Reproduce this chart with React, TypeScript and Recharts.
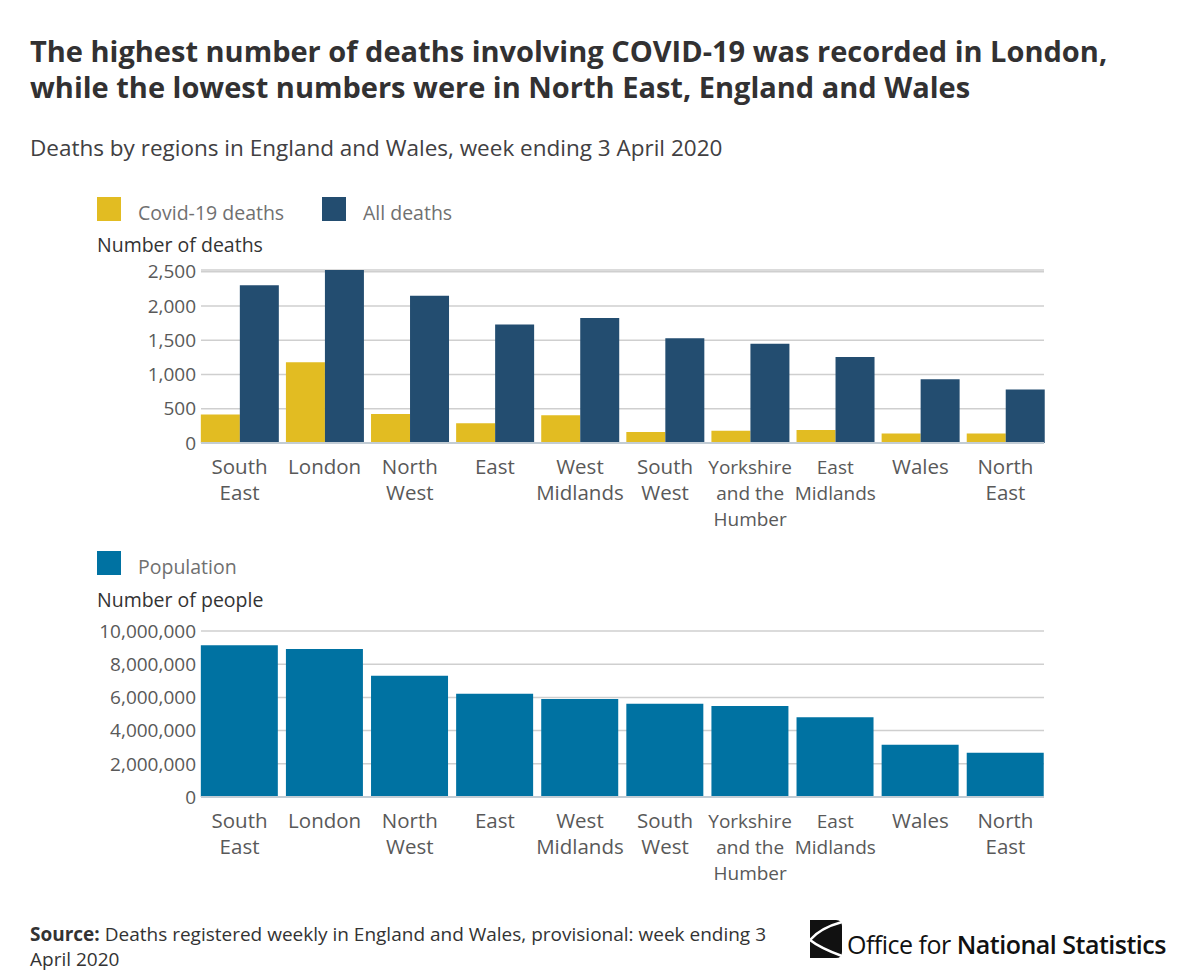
import React from 'react';
import { BarChart, Bar, XAxis, YAxis, CartesianGrid } from 'recharts';

const regions = ['South East', 'London', 'North West', 'East', 'West Midlands', 'South West', 'Yorkshire and the Humber', 'East Midlands', 'Wales', 'North East'];
const regionLines = [['South', 'East'], ['London'], ['North', 'West'], ['East'], ['West', 'Midlands'], ['South', 'West'], ['Yorkshire', 'and the', 'Humber'], ['East', 'Midlands'], ['Wales'], ['North', 'East']];
const covidDeaths = [415, 1178, 425, 290, 405, 159, 180, 188, 140, 140];
const allDeaths = [2302, 2525, 2148, 1728, 1824, 1530, 1448, 1255, 932, 782];
const population = [9140000, 8910000, 7300000, 6220000, 5900000, 5620000, 5480000, 4800000, 3150000, 2670000];
const deathTicks = [0, 500, 1000, 1500, 2000, 2500];
const popTicks = [0, 2000000, 4000000, 6000000, 8000000, 10000000];

const YELLOW = '#e2bc22';
const NAVY = '#234d70';
const TEAL = '#0072a2';
const FONT = '"Open Sans", "Noto Sans", sans-serif';

const deathsData = regions.map((r, i) => ({ name: r, covid: covidDeaths[i], all: allDeaths[i] }));
const popData = regions.map((r, i) => ({ name: r, population: population[i] }));

const fmt = (v: number) => v.toLocaleString('en-GB');

// multi-line category labels; the long ones are set a touch smaller
const RegionTick = ({ x, y, index }: any) => {
  const lines = regionLines[index] || [];
  const size = index === 6 || index === 7 ? 19 : 20.5;
  return (
    <text x={x} y={y} textAnchor="middle" fill="#595959" fontSize={size} fontFamily={FONT}>
      {lines.map((l, i) => (
        <tspan key={i} x={x} y={y + 23 + i * 26}>{l}</tspan>
      ))}
    </text>
  );
};

const Swatch = ({ color, label, left, top }: { color: string; label: string; left: number; top: number }) => (
  <>
    <div style={{ position: 'absolute', left, top, width: 24, height: 24, background: color }} />
    <div style={{ position: 'absolute', left: left + 41, top: top + 3, fontSize: 19.5, lineHeight: '26px', color: '#707070', whiteSpace: 'nowrap' }}>{label}</div>
  </>
);

const App: React.FC = () => {
  const axisTick = { fontSize: 19, fill: '#595959', fontFamily: FONT };
  return (
    <div style={{ position: 'absolute', left: 0, top: 0, width: 1200, height: 979, background: '#fff', fontFamily: FONT, overflow: 'hidden' }}>
      <div style={{ position: 'absolute', left: 30, top: 33, fontSize: 29, fontWeight: 700, lineHeight: '36px', color: '#323132', whiteSpace: 'nowrap' }}>
        The highest number of deaths involving COVID-19 was recorded in London,<br />
        while the lowest numbers were in North East, England and Wales
      </div>
      <div style={{ position: 'absolute', left: 30, top: 133, fontSize: 22.5, lineHeight: '30px', color: '#414042', whiteSpace: 'nowrap' }}>
        Deaths by regions in England and Wales, week ending 3 April 2020
      </div>

      {/* Deaths chart */}
      <Swatch color={YELLOW} label="Covid-19 deaths" left={97} top={197} />
      <Swatch color={NAVY} label="All deaths" left={322} top={197} />
      <div style={{ position: 'absolute', left: 97, top: 232, fontSize: 19.5, lineHeight: '26px', color: '#333' }}>Number of deaths</div>
      <div style={{ position: 'absolute', left: 0, top: 240 }}>
        <BarChart width={1200} height={303} data={deathsData} margin={{ top: 30, right: 156, bottom: 0, left: 0 }} barCategoryGap="4.5%" barGap={0}>
          <CartesianGrid vertical={false} stroke="#cfcfcf" strokeWidth={1.5} />
          <XAxis dataKey="name" height={100} interval={0} padding={{ left: -4, right: -4 }} tick={<RegionTick />} tickLine={false} axisLine={{ stroke: '#c2ccd4', strokeWidth: 2 }} />
          <YAxis width={201} domain={[0, 2500]} ticks={deathTicks} tickFormatter={fmt} tick={axisTick} axisLine={false} tickLine={false} tickSize={3} tickMargin={2} />
          <Bar dataKey="covid" fill={YELLOW} isAnimationActive={false} />
          <Bar dataKey="all" fill={NAVY} isAnimationActive={false} />
        </BarChart>
      </div>

      {/* Population chart */}
      <Swatch color={TEAL} label="Population" left={97} top={551} />
      <div style={{ position: 'absolute', left: 97, top: 587, fontSize: 19.5, lineHeight: '26px', color: '#333' }}>Number of people</div>
      <div style={{ position: 'absolute', left: 0, top: 601 }}>
        <BarChart width={1200} height={296} data={popData} margin={{ top: 30, right: 156, bottom: 0, left: 0 }} barCategoryGap="4.5%">
          <CartesianGrid vertical={false} stroke="#cfcfcf" strokeWidth={1.5} />
          <XAxis dataKey="name" height={100} interval={0} padding={{ left: -4, right: -4 }} tick={<RegionTick />} tickLine={false} axisLine={{ stroke: '#c2ccd4', strokeWidth: 2 }} />
          <YAxis width={201} domain={[0, 10000000]} ticks={popTicks} tickFormatter={fmt} tick={axisTick} axisLine={false} tickLine={false} tickSize={3} tickMargin={2} />
          <Bar dataKey="population" fill={TEAL} isAnimationActive={false} />
        </BarChart>
      </div>

      {/* Footer */}
      <div style={{ position: 'absolute', left: 30, top: 922, fontSize: 19, lineHeight: '25px', color: '#333', whiteSpace: 'nowrap' }}>
        <b>Source:</b> Deaths registered weekly in England and Wales, provisional: week ending 3<br />
        April 2020
      </div>
      <svg style={{ position: 'absolute', left: 806, top: 918 }} width={40} height={42}>
        <path d="M4 2 H30 Q36 2 36 8 V34 Q36 40 30 40 H4 Z" fill="#111" />
        <path d="M36 4 Q14 10 4 22 Q14 30 36 38" stroke="#fff" strokeWidth={2.5} fill="none" />
      </svg>
      <div style={{ position: 'absolute', left: 847, top: 927, fontSize: 25, lineHeight: '34px', color: '#111', whiteSpace: 'nowrap', letterSpacing: -0.5 }}>
        Office for <b style={{ fontWeight: 600 }}>National Statistics</b>
      </div>
    </div>
  );
};

export default App;
